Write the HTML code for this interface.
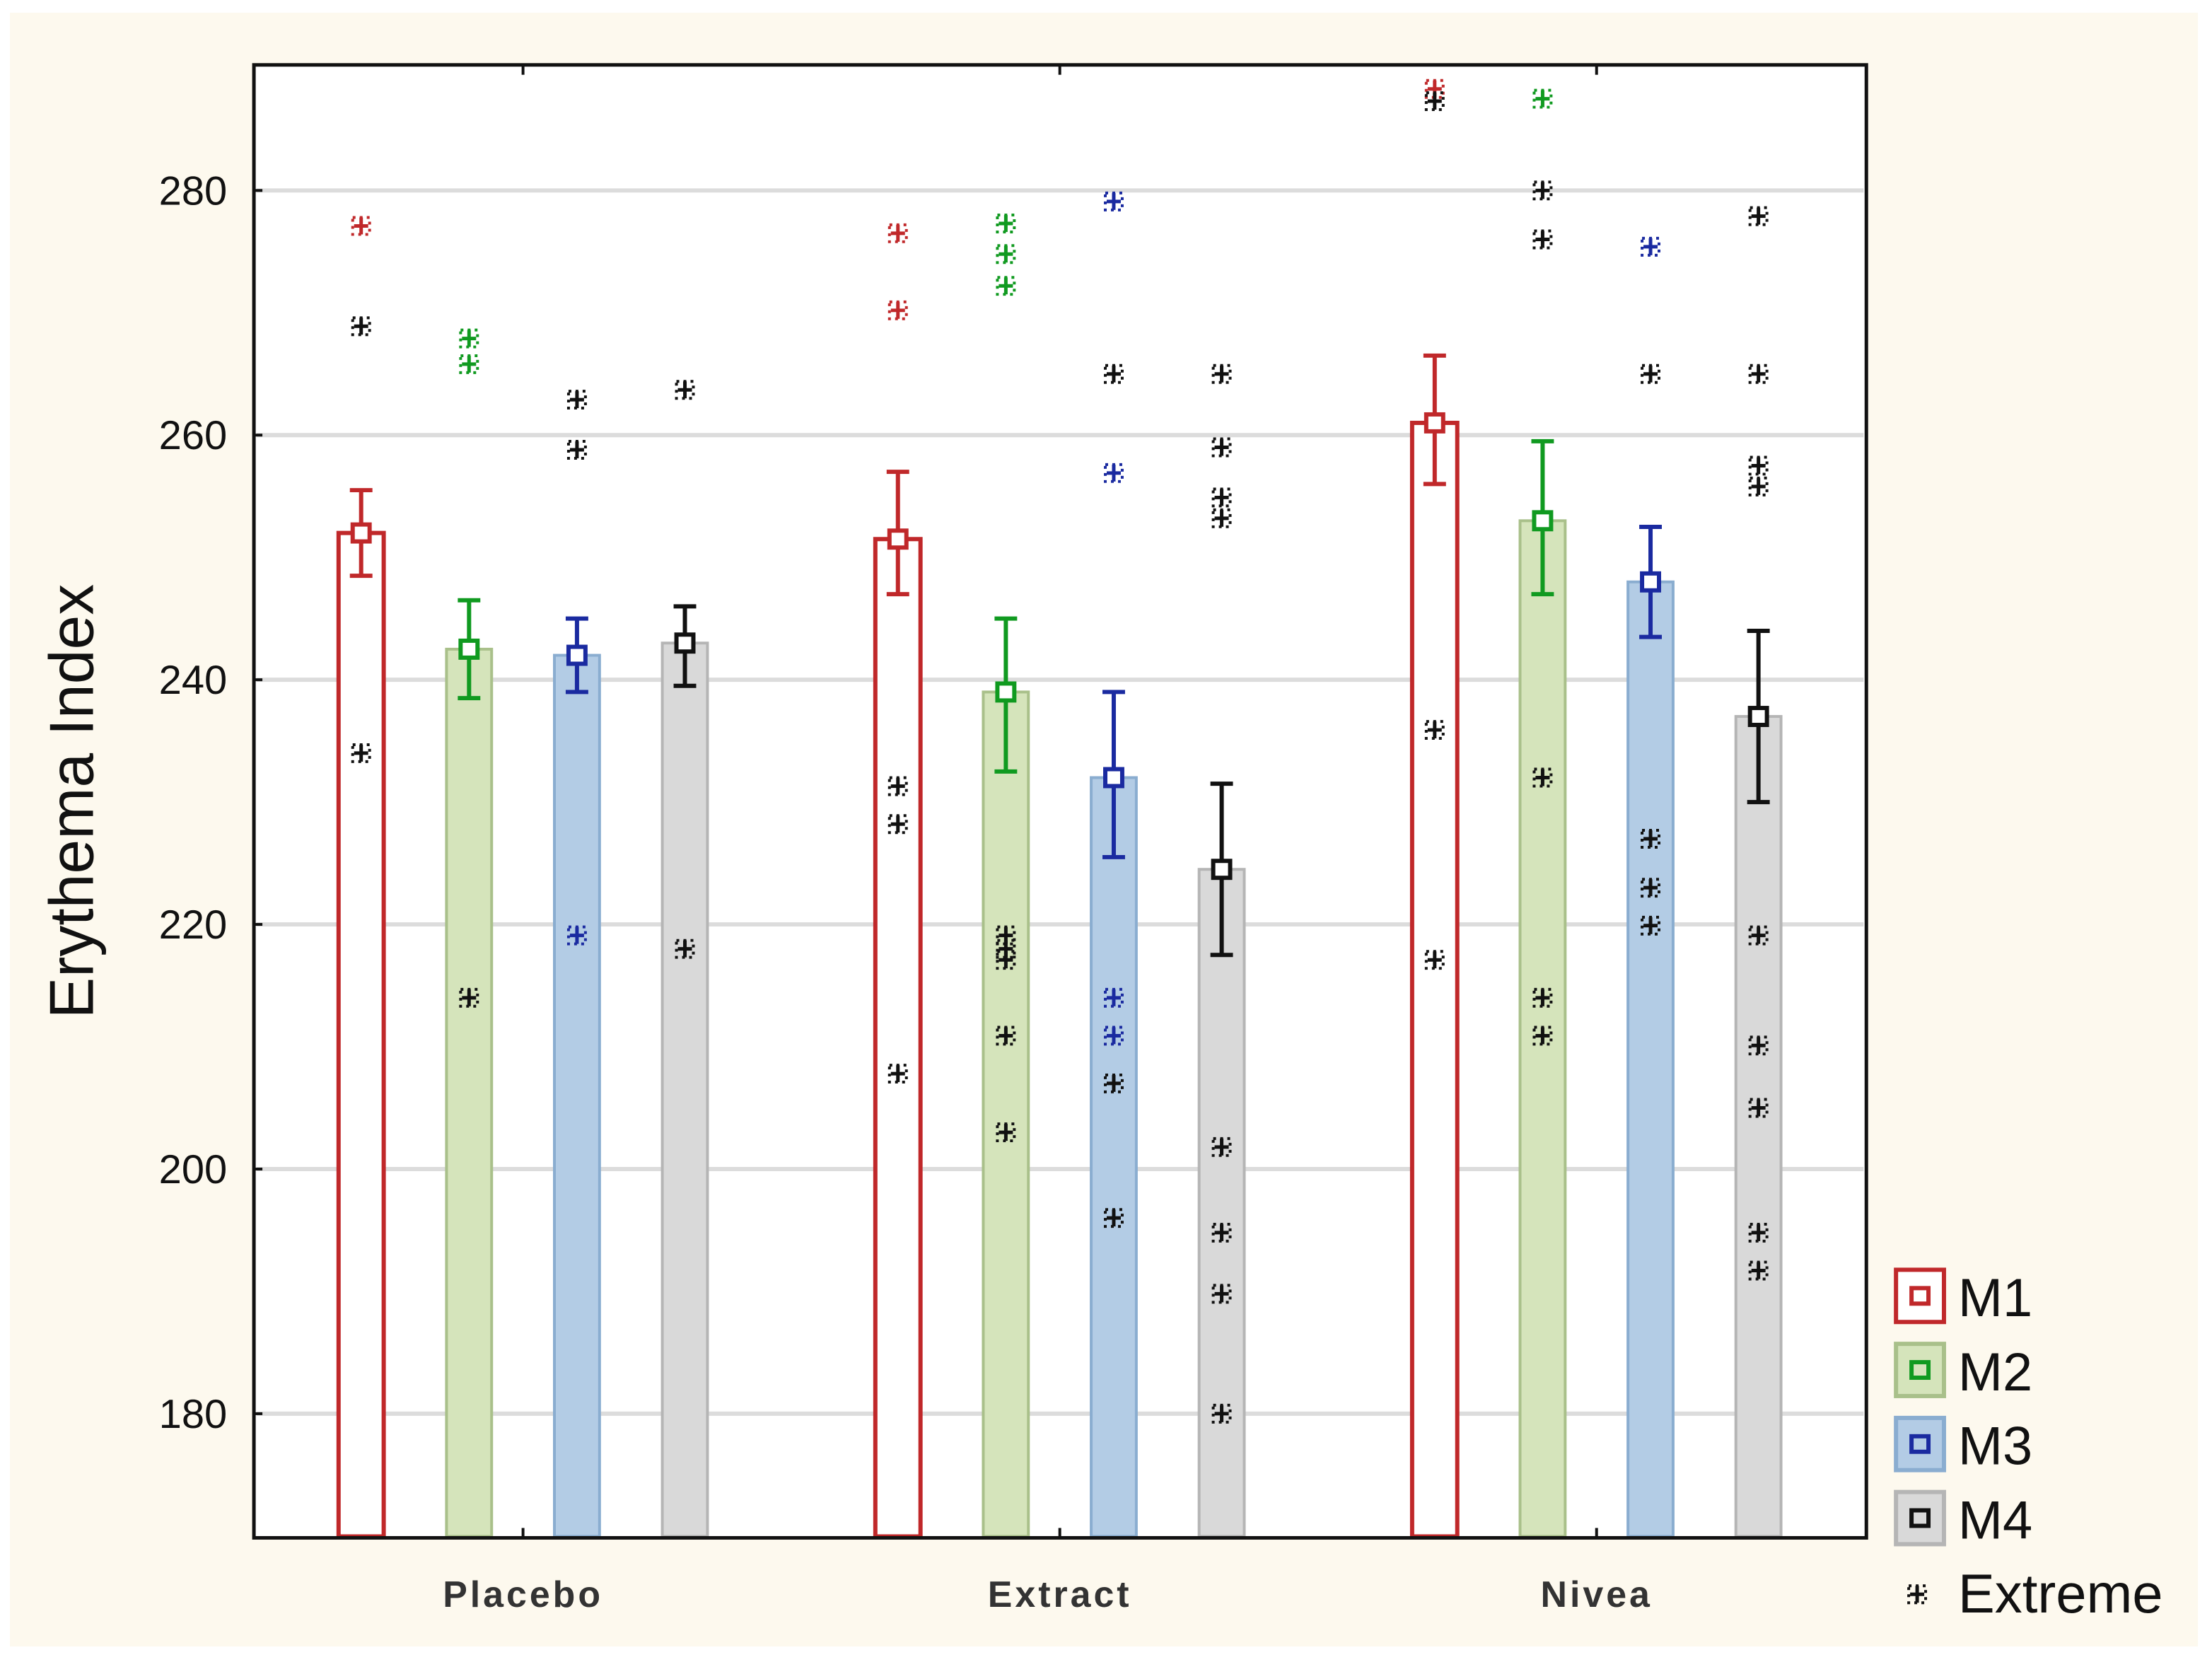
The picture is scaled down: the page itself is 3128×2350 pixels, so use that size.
<!DOCTYPE html>
<html><head><meta charset="utf-8"><style>
html,body{margin:0;padding:0;background:#fff;}
svg{display:block;}
text{font-family:"Liberation Sans",sans-serif;}
</style></head><body>
<svg id="chart" width="3128" height="2350" viewBox="0 0 1568 1178" preserveAspectRatio="none" xmlns="http://www.w3.org/2000/svg">
<rect x="7" y="9" width="1551" height="1158" fill="#fdf9ee"/>
<rect x="180" y="46" width="1143" height="1044" fill="#ffffff"/>
<g id="grid"></g>
<g id="bars"></g>
<g id="marks"></g>
<rect x="180" y="46" width="1143" height="1044" fill="none" stroke="#111" stroke-width="2.5"/>
<g id="axes"></g>
<text transform="translate(66,568) rotate(-90)" text-anchor="middle" font-size="44" fill="#111">Erythema Index</text>
<g id="legend"></g>
</svg>
<script>
const groups = ["Placebo","Extract","Nivea"];
const seriesNames = ["M1","M2","M3","M4"];
const yTicks = [180,200,220,240,260,280];
const meanM1 = [252,251.5,261];
const meanM2 = [242.5,239,253];
const meanM3 = [242,232,248];
const meanM4 = [243,224.5,237];
const lowM1 = [248.5,247,256]; const highM1 = [255.5,257,266.5];
const lowM2 = [238.5,232.5,247]; const highM2 = [246.5,245,259.5];
const lowM3 = [239,225.5,243.5]; const highM3 = [245,239,252.5];
const lowM4 = [239.5,217.5,230]; const highM4 = [246,231.5,244];
// extremes: [group, series, value, colored(1)/black(0)]
const extremes = [
[0,0,277.1,1],[0,0,268.9,0],[0,0,234,0],
[0,1,267.9,1],[0,1,265.8,1],[0,1,214,0],
[0,2,262.9,0],[0,2,258.8,0],[0,2,219.1,1],
[0,3,263.7,0],[0,3,218,0],
[1,0,276.5,1],[1,0,270.2,1],[1,0,231.3,0],[1,0,228.2,0],[1,0,207.8,0],
[1,1,277.3,1],[1,1,274.8,1],[1,1,272.2,1],[1,1,219.1,0],[1,1,218,0],[1,1,217.1,0],[1,1,210.9,0],[1,1,203,0],
[1,2,279.1,1],[1,2,265,0],[1,2,256.9,1],[1,2,214,1],[1,2,210.9,1],[1,2,207,0],[1,2,196,0],
[1,3,265,0],[1,3,259,0],[1,3,254.9,0],[1,3,253.2,0],[1,3,201.8,0],[1,3,194.8,0],[1,3,189.8,0],[1,3,180,0],
[2,0,288.3,1],[2,0,287.3,0],[2,0,235.9,0],[2,0,217.1,0],
[2,1,287.5,1],[2,1,280,0],[2,1,276,0],[2,1,232,0],[2,1,214,0],[2,1,210.9,0],
[2,2,275.4,1],[2,2,265,0],[2,2,227,0],[2,2,223,0],[2,2,219.9,0],
[2,3,277.9,0],[2,3,265,0],[2,3,257.5,0],[2,3,255.8,0],[2,3,219.1,0],[2,3,210.1,0],[2,3,205,0],[2,3,194.8,0],[2,3,191.7,0]
];
const means=[meanM1,meanM2,meanM3,meanM4];
const lows=[lowM1,lowM2,lowM3,lowM4];
const highs=[highM1,highM2,highM3,highM4];
const lineCol=["#c0282a","#109a20","#1a2aa0","#111111"];
const fillCol=["#ffffff","#d5e4bb","#b3cce5","#d9d9d9"];
const edgeCol=["#c0282a","#a9c08a","#8aadd0","#b5b5b5"];
const NS="http://www.w3.org/2000/svg";
function y(v){return 135+(280-v)*8.67;}
function x(g,s){return 256+g*380.5+s*76.5;}
function mk(tag,attrs,parent){const e=document.createElementNS(NS,tag);for(const k in attrs)e.setAttribute(k,attrs[k]);parent.appendChild(e);return e;}
const grid=document.getElementById('grid'),bars=document.getElementById('bars'),marks=document.getElementById('marks'),axes=document.getElementById('axes'),legend=document.getElementById('legend');
yTicks.forEach(t=>{
 const l=mk('line',{x1:182,x2:1321,y1:y(t),y2:y(t),stroke:'#dcdcdc','stroke-width':3},grid);
 
 
 const tk=mk('line',{x1:180,x2:186,y1:y(t),y2:y(t),stroke:'#111','stroke-width':2},axes);
 
 
 const tx=mk('text',{x:161,y:y(t)+10,'text-anchor':'end','font-size':29,fill:'#111'},axes);
 tx.textContent=t;
 
 
});
groups.forEach((g,gi)=>{
 const cx=x(gi,1.5);
 const t1=mk('line',{x1:cx,x2:cx,y1:1090,y2:1083,stroke:'#111','stroke-width':2},axes);
 
 
 const t2=mk('line',{x1:cx,x2:cx,y1:46,y2:53,stroke:'#111','stroke-width':2},axes);
 
 
 const tx=mk('text',{x:cx,y:1139,'text-anchor':'middle','font-size':26,'font-weight':'bold','letter-spacing':'2',fill:'#333'},axes);
 tx.textContent=g;
 
 
});
function extremeMark(cx,cy,col,parent,name){
 const gg=mk('g',{},parent);
 
 
 mk('rect',{x:cx-6,y:cy-6,width:12,height:12,fill:'none',stroke:col,'stroke-width':2,'stroke-dasharray':'2 3'},gg);
 mk('line',{x1:cx-5,x2:cx+5,y1:cy,y2:cy,stroke:col,'stroke-width':2.5},gg);
 mk('line',{x1:cx,x2:cx,y1:cy-6,y2:cy+6,stroke:col,'stroke-width':2.5},gg);
}
groups.forEach((g,gi)=>{
 seriesNames.forEach((s,si)=>{
  const cx=x(gi,si),top=y(means[si][gi]);
  const b=mk('rect',{x:cx-16,y:top,width:32,height:1089-top,fill:fillCol[si],stroke:edgeCol[si],'stroke-width':si==0?3:2},bars);
  
  
  const eg=mk('g',{stroke:lineCol[si],'stroke-width':3,fill:'none'},marks);
  
  
  const yl=y(lows[si][gi]),yh=y(highs[si][gi]);
  mk('line',{x1:cx,x2:cx,y1:yh,y2:yl},eg);
  mk('line',{x1:cx-8,x2:cx+8,y1:yh,y2:yh},eg);
  mk('line',{x1:cx-8,x2:cx+8,y1:yl,y2:yl},eg);
  mk('rect',{x:cx-6,y:top-6,width:12,height:12,fill:'#fff'},eg);
 });
});
extremes.forEach((e,i)=>{
 extremeMark(x(e[0],e[1]),y(e[2]),e[3]?lineCol[e[1]]:'#111',marks,'extreme-point-'+i);
});
seriesNames.forEach((s,si)=>{
 const ly=900+si*52.5;
 const lg=mk('g',{},legend);
 
 
 mk('rect',{x:1344,y:ly,width:34,height:37,fill:fillCol[si],stroke:edgeCol[si],'stroke-width':3},lg);
 mk('rect',{x:1355,y:ly+13,width:12,height:11,fill:'none',stroke:lineCol[si],'stroke-width':3},lg);
 const t=mk('text',{x:1388,y:ly+33,'font-size':38,fill:'#111'},lg);
 t.textContent=s;
});
const le=mk('g',{},legend);


extremeMark(1359,1130,'#111',le,'legend-extreme-marker');
const et=mk('text',{x:1388,y:1143,'font-size':39,fill:'#111'},le);
et.textContent='Extreme';
</script>
</body></html>
